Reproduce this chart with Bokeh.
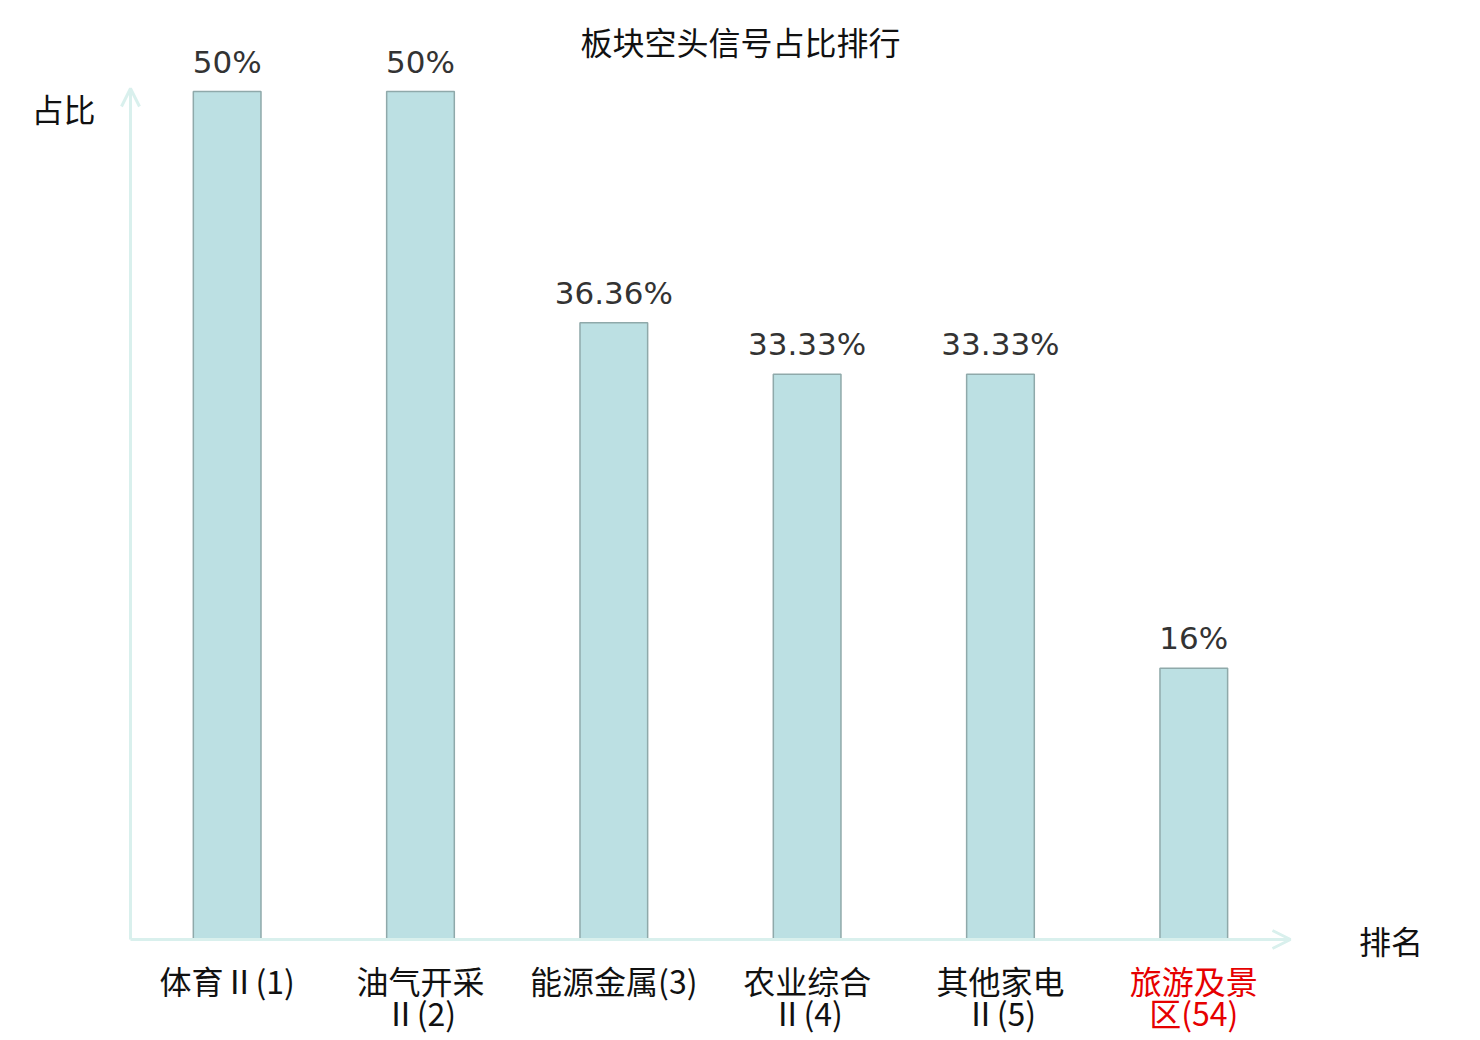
from bokeh.plotting import figure
from bokeh.models import ColumnDataSource, Range1d, Arrow, OpenHead
from bokeh.core.properties import value
from bokeh.embed import file_html
from bokeh.resources import INLINE

title = "板块空头信号占比排行"
line1 = ["体育Ⅱ(1)", "油气开采", "能源金属(3)", "农业综合", "其他家电", "旅游及景"]
line2 = ["", "Ⅱ(2)", "", "Ⅱ(4)", "Ⅱ(5)", "区(54)"]
values = [50, 50, 36.36, 33.33, 33.33, 16]
label_colors = ["#111111", "#111111", "#111111", "#111111", "#111111", "#e60000"]
y_label = "占比"
x_label = "排名"

W, H = 1480, 1040
xs = [i + 0.5 for i in range(len(values))]
src = ColumnDataSource(dict(
    x=xs, top=values, pct=[f"{v:g}%" for v in values],
    l1=line1, l2=line2, c=label_colors, zero=[0] * len(values),
))

p = figure(width=W, height=H, output_backend="svg", toolbar_location=None,
           x_range=Range1d(-0.6724, 6.983), y_range=Range1d(-5.955, 55.366),
           x_axis_type=None, y_axis_type=None, min_border=0)
p.grid.visible = False
p.outline_line_color = None

axis_col = "#d9f0ed"
p.add_layout(Arrow(end=OpenHead(size=18, line_color=axis_col, line_width=3),
                   x_start=0, y_start=0, x_end=6, y_end=0,
                   line_color=axis_col, line_width=3))
p.add_layout(Arrow(end=OpenHead(size=18, line_color=axis_col, line_width=3),
                   x_start=0, y_start=0, x_end=0, y_end=50.18,
                   line_color=axis_col, line_width=3))

p.vbar(x="x", top="top", bottom=0, width=0.35, source=src,
       fill_color="#bce0e3", line_color="#8fa9aa", line_width=1.5)

p.text(x="x", y="top", text="pct", source=src, y_offset=-30,
       text_align="center", text_baseline="middle",
       text_font=value("DejaVu Sans"), text_font_size="31px", text_color="#333333")

p.text(x="x", y="zero", text="l1", source=src, y_offset=40,
       text_align="center", text_baseline="middle",
       text_font=value("Noto Sans CJK SC"), text_font_size="32px", text_color="c")
p.text(x="x", y="zero", text="l2", source=src, y_offset=72,
       text_align="center", text_baseline="middle",
       text_font=value("Noto Sans CJK SC"), text_font_size="32px", text_color="c")

p.text(x=[3.155], y=[52.95], text=[title], text_align="center", text_baseline="middle",
       text_font=value("Noto Sans CJK SC"), text_font_size="32px", text_color="#111111")
p.text(x=[-0.347], y=[49.05], text=[y_label], text_align="center", text_baseline="middle",
       text_font=value("Noto Sans CJK SC"), text_font_size="32px", text_color="#111111")
p.text(x=[6.52], y=[-0.05], text=[x_label], text_align="center", text_baseline="middle",
       text_font=value("Noto Sans CJK SC"), text_font_size="32px", text_color="#111111")

open("out.html", "w").write(file_html(p, INLINE))
